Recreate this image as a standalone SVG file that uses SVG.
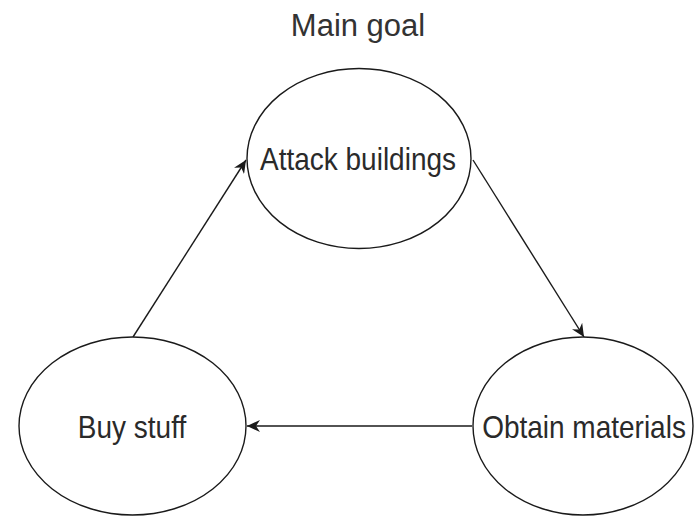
<svg xmlns="http://www.w3.org/2000/svg" width="696" height="516" viewBox="0 0 696 516">
  <style>
    .node { fill: #ffffff; stroke: #1a1a1a; stroke-width: 1.4; }
    .label { font-family: "Liberation Sans", Arial, sans-serif; font-size: 28px; fill: #2a2a2a; text-anchor: middle; }
    .title { font-size: 31px; fill: #333333; }
    .edge { fill: none; stroke: #1a1a1a; stroke-width: 1.4; marker-end: url(#arrow); }
  </style>
  <defs>
    <marker id="arrow" markerUnits="userSpaceOnUse" markerWidth="14" markerHeight="12" viewBox="0 0 14 12" refX="13" refY="6" orient="auto">
      <path d="M0,0 L13,6 L0,12 L4,6 z" fill="#1a1a1a"/>
    </marker>
  </defs>
  <rect width="696" height="516" fill="#ffffff"/>
  <text class="label title" transform="translate(358,36) scale(1,1.02)">Main goal</text>
  <g id="edges">
    <line class="edge" x1="133" y1="337" x2="246" y2="160"/>
    <line class="edge" x1="473" y1="160" x2="584" y2="337"/>
    <line class="edge" x1="472" y1="426" x2="247" y2="426"/>
  </g>
  <g id="attack">
    <ellipse class="node" cx="359" cy="158.5" rx="112" ry="90"/>
    <text class="label" transform="translate(358,170) scale(1,1.15)">Attack buildings</text>
  </g>
  <g id="buy">
    <ellipse class="node" cx="132.5" cy="426" rx="113.5" ry="89"/>
    <text class="label" transform="translate(132,438) scale(1,1.15)">Buy stuff</text>
  </g>
  <g id="obtain">
    <ellipse class="node" cx="583" cy="426" rx="110" ry="89"/>
    <text class="label" transform="translate(584,438) scale(1,1.15)">Obtain materials</text>
  </g>
</svg>
